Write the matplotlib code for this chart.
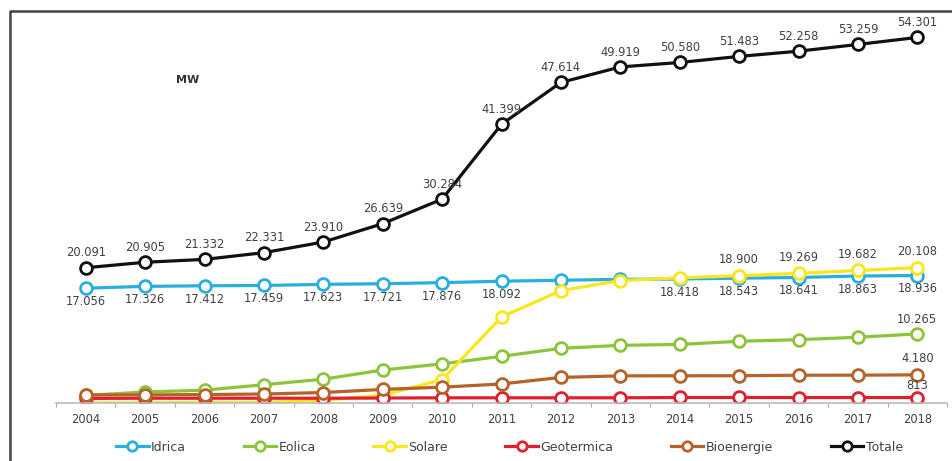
import numpy as np
import matplotlib.pyplot as plt
from matplotlib.lines import Line2D

# Dati (MW)
anni = ['2004', '2005', '2006', '2007', '2008', '2009', '2010', '2011',
        '2012', '2013', '2014', '2015', '2016', '2017', '2018']
idrica = [17056, 17326, 17412, 17459, 17623, 17721, 17876, 18092,
          18232, 18366, 18418, 18543, 18641, 18863, 18936]
eolica = [1131, 1639, 1908, 2714, 3538, 4898, 5814, 6936,
          8119, 8561, 8703, 9162, 9410, 9766, 10265]
solare = [19, 31, 87, 87, 432, 1142, 3470, 12773,
          16690, 18185, 18594, 18900, 19269, 19682, 20108]
geotermica = [681, 711, 711, 711, 711, 737, 772, 772,
              772, 773, 821, 821, 815, 813, 813]
bioenergie = [1200, 1200, 1256, 1336, 1555, 2019, 2352, 2825,
              3802, 4033, 4044, 4057, 4124, 4135, 4180]
totale = [20091, 20905, 21332, 22331, 23910, 26639, 30284, 41399,
          47614, 49919, 50580, 51483, 52258, 53259, 54301]

serie = [
    ('Idrica', idrica, '#2aaee0'),
    ('Eolica', eolica, '#8cc43c'),
    ('Solare', solare, '#f8e71c'),
    ('Geotermica', geotermica, '#e0202e'),
    ('Bioenergie', bioenergie, '#b5632a'),
    ('Totale', totale, '#111111'),
]

fig = plt.figure(figsize=(9.52, 4.61), dpi=100)
ax = fig.add_axes([56 / 952, 58 / 461, 891 / 952, 377 / 461])
x = np.arange(len(anni))

for nome, val, col in serie:
    ax.plot(x, val, color=col, lw=2.3, marker='o', ms=8.5, mfc='white',
            mec=col, mew=2.0, label=nome)

def fmt(v):
    return f'{v:,}'.replace(',', '.')

col_txt = '#404040'
fs = 8.3

def etichetta(i, v, dy):
    ax.annotate(fmt(v), (i, v), xytext=(0, dy), textcoords='offset points',
                ha='center', va='bottom' if dy > 0 else 'top',
                fontsize=fs, color=col_txt)

# etichette Totale (sopra)
for i, v in enumerate(totale):
    etichetta(i, v, 6)
# etichette Idrica (sotto)
for i, v in enumerate(idrica):
    if anni[i] in ('2012', '2013'):
        continue
    etichetta(i, v, -5)
# etichette Solare 2015-2018
for i in range(11, 15):
    etichetta(i, solare[i], 7)
etichetta(14, eolica[-1], 6)
etichetta(14, bioenergie[-1], 7)
etichetta(14, geotermica[-1], 4)

ax.set_xlim(-0.5, 14.5)
ax.set_ylim(0, 56000)
ax.set_xticks(x)
ax.set_xticklabels(anni, fontsize=fs, color=col_txt)
ax.set_xticks(np.arange(-0.5, 15, 1), minor=True)
ax.tick_params(axis='x', which='major', length=0, pad=7)
ax.tick_params(axis='x', which='minor', length=3, color='#999999')
ax.set_yticks([])
for s in ('left', 'right', 'top'):
    ax.spines[s].set_visible(False)
ax.spines['bottom'].set_color('#bbbbbb')
ax.spines['bottom'].set_linewidth(1.2)

fig.text(188 / 952, 1 - 80 / 461, 'MW', fontsize=8, fontweight='bold',
         color='#333333', ha='center', va='center')

# cornice
fig.add_artist(Line2D([10 / 952, 10 / 952, 1.0], [0.0, 1 - 11 / 461, 1 - 11 / 461],
                      transform=fig.transFigure, color='#444444', lw=1.8))

fig.legend(loc='center', bbox_to_anchor=(0.535, 1 - 447 / 461), ncol=6, frameon=False,
           fontsize=9, labelcolor=col_txt, columnspacing=4.6, handlelength=2.6,
           handletextpad=0.2, markerscale=0.8)

fig.savefig('out.png', dpi=100)
